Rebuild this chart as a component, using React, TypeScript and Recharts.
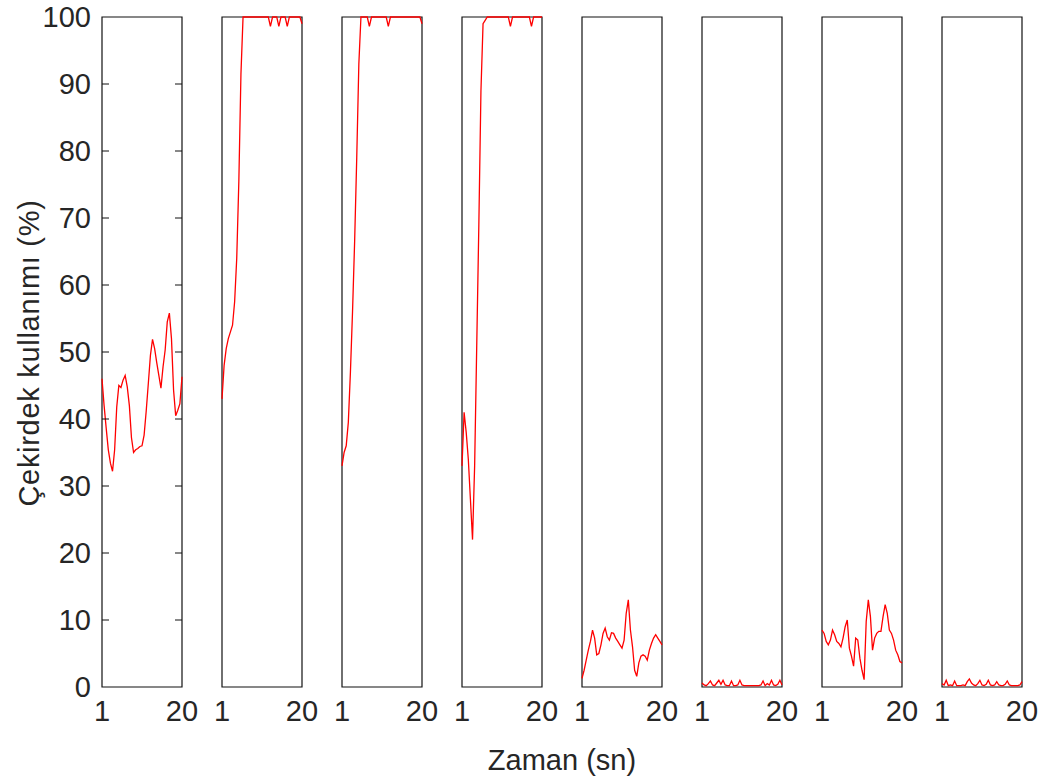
import React from 'react';
import { LineChart, Line, XAxis, YAxis, ReferenceArea } from 'recharts';

// time points (sn), sampled every half second
const zaman = [
  1, 1.5, 2, 2.5, 3, 3.5, 4, 4.5, 5, 5.5, 6, 6.5, 7, 7.5, 8, 8.5, 9, 9.5, 10, 10.5,
  11, 11.5, 12, 12.5, 13, 13.5, 14, 14.5, 15, 15.5, 16, 16.5, 17, 17.5, 18, 18.5, 19, 19.5, 20,
];

// core usage (%) per core
const cekirdek1 = [
  46, 42, 38.6, 35.4, 33.4, 32.2, 35.4, 41.8, 45, 44.7, 45.8, 46.5, 44.8, 42, 37.2, 35, 35.4, 35.6, 35.9, 36,
  37.6, 41.2, 45.3, 49.5, 51.9, 50.5, 48.4, 46.5, 44.6, 47.8, 50.3, 54.5, 55.8, 52, 44.3, 40.5, 41.3, 42.3, 46.3,
];
const cekirdek2 = [
  43, 48, 50.5, 52, 53, 54, 57.5, 64, 75.5, 91.5, 100, 100, 100, 100, 100, 100, 100, 100, 100, 100,
  100, 100, 100, 98.6, 100, 100, 100, 98.6, 100, 100, 100, 98.6, 100, 100, 100, 100, 100, 100, 99,
];
const cekirdek3 = [
  33, 35, 36, 39.5, 47, 56, 66.5, 79, 93, 100, 100, 100, 100, 98.6, 100, 100, 100, 100, 100, 100,
  100, 100, 98.6, 100, 100, 100, 100, 100, 100, 100, 100, 100, 100, 100, 100, 100, 100, 100, 99,
];
const cekirdek4 = [
  33, 41, 38, 34, 28, 22, 33, 51, 69, 89, 99, 99.5, 100, 100, 100, 100, 100, 100, 100, 100,
  100, 100, 100, 98.6, 100, 100, 100, 100, 100, 100, 100, 100, 100, 98.6, 100, 100, 100, 100, 100,
];
const cekirdek5 = [
  1.3, 2.5, 4, 5.5, 6.8, 8.5, 7.3, 4.8, 5, 6.3, 8, 8.8, 7.5, 7, 8.1, 8, 7.3, 6.8, 6.3, 5.8,
  7, 11, 13, 8.5, 6, 2.5, 1.6, 3.6, 4.6, 4.8, 4.6, 4, 5.5, 6.5, 7.3, 7.8, 7.3, 6.8, 6.3,
];
const cekirdek6 = [
  0.6, 0.3, 0.2, 0.5, 0.9, 0.3, 0.2, 0.6, 1.0, 0.4, 1.0, 0.3, 0.2, 0.2, 0.9, 0.2, 0.2, 0.3, 1.0, 0.3,
  0.2, 0.2, 0.2, 0.2, 0.2, 0.2, 0.2, 0.2, 0.3, 0.9, 0.2, 0.5, 0.3, 1.0, 0.3, 0.2, 0.4, 1.0, 0.3,
];
const cekirdek7 = [
  8.5, 8, 6.8, 6.3, 7, 8.5, 7.8, 6.8, 6.5, 6, 7.3, 9, 10, 5.8, 4.6, 3.1, 7.3, 7, 4.3, 2.5,
  1.1, 9.8, 13, 10.5, 5.5, 7.3, 8, 8.3, 8.3, 10.5, 12.3, 11, 8.5, 8, 7, 5.5, 4.8, 3.8, 3.6,
];
const cekirdek8 = [
  0.5, 0.3, 1.0, 0.2, 0.3, 0.2, 0.9, 0.2, 0.2, 0.2, 0.3, 0.2, 0.8, 1.2, 0.6, 0.3, 0.2, 0.5, 1.0, 0.3,
  0.2, 0.4, 1.0, 0.3, 0.2, 0.3, 0.8, 0.3, 0.2, 0.2, 0.4, 0.9, 0.3, 0.2, 0.2, 0.2, 0.2, 0.3, 0.8,
];

const seriler = [cekirdek1, cekirdek2, cekirdek3, cekirdek4, cekirdek5, cekirdek6, cekirdek7, cekirdek8];

const xTicks = [1, 20];
const yTicks = [0, 10, 20, 30, 40, 50, 60, 70, 80, 90, 100];

const FONT = '"Liberation Sans", Arial, sans-serif';
const FS = 29;
const TXT = '#262626';

const PLOT_TOP = 17;
const PLOT_BOTTOM = 687;
const PLOT_W = 80;
const FIRST_LEFT = 102;
const STEP = 120;
const H = 784;
const X_AXIS_H = 50;
const Y_LABEL_GAP = 11;
const INNER_TICK = 7;

const YTick = (props: any) => {
  const { x, y, payload } = props;
  const left = x + Y_LABEL_GAP;
  const v = payload.value;
  return (
    <g>
      <text x={x} y={y} dy="0.355em" textAnchor="end" fontFamily={FONT} fontSize={FS} fill={TXT}>
        {v}
      </text>
      {v !== 0 && v !== 100 && (
        <>
          <line x1={left} x2={left + INNER_TICK} y1={y} y2={y} stroke="#111" />
          <line x1={left + PLOT_W - INNER_TICK} x2={left + PLOT_W} y1={y} y2={y} stroke="#111" />
        </>
      )}
    </g>
  );
};

const Panel: React.FC<{ idx: number }> = ({ idx }) => {
  const first = idx === 0;
  const data = zaman.map((t, i) => ({ t, v: seriler[idx][i] }));
  const marginLeft = first ? 0 : 20;
  const yW = first ? FIRST_LEFT : 0;
  const width = (first ? FIRST_LEFT : 20) + PLOT_W + 22;
  const chartLeft = first ? 0 : FIRST_LEFT + idx * STEP - 20;

  return (
    <div style={{ position: 'absolute', left: chartLeft, top: 0 }}>
      <LineChart
        width={width}
        height={H}
        data={data}
        margin={{ top: PLOT_TOP, right: 22, bottom: H - PLOT_BOTTOM - X_AXIS_H, left: marginLeft }}
      >
        <XAxis
          dataKey="t"
          type="number"
          domain={[1, 20]}
          ticks={xTicks}
          height={X_AXIS_H}
          axisLine={false}
          tickLine={false}
          tickSize={0}
          tickMargin={13}
          interval={0}
          tick={{ fontFamily: FONT, fontSize: FS, fill: TXT }}
        />
        <YAxis
          type="number"
          domain={[0, 100]}
          ticks={yTicks}
          hide={!first}
          width={yW}
          axisLine={false}
          tickLine={false}
          tickSize={0}
          tickMargin={Y_LABEL_GAP}
          interval={0}
          tick={<YTick />}
        />
        <ReferenceArea x1={1} x2={20} y1={0} y2={100} fill="none" stroke="#111" strokeWidth={1.2} />
        <Line
          type="linear"
          dataKey="v"
          stroke="#ff0000"
          strokeWidth={1.3}
          dot={false}
          isAnimationActive={false}
        />
      </LineChart>
    </div>
  );
};

export default function App() {
  return (
    <div
      style={{
        position: 'absolute',
        left: 0,
        top: 0,
        width: 1052,
        height: H,
        background: '#fff',
        overflow: 'hidden',
      }}
    >
      {seriler.map((_, i) => (
        <Panel key={i} idx={i} />
      ))}
      <div
        style={{
          position: 'absolute',
          left: 29,
          top: 353,
          transform: 'translate(-50%, -50%) rotate(-90deg)',
          whiteSpace: 'nowrap',
          fontFamily: FONT,
          fontSize: FS,
          color: TXT,
          lineHeight: 1,
          letterSpacing: 0.7,
        }}
      >
        Çekirdek kullanımı (%)
      </div>
      <div
        style={{
          position: 'absolute',
          left: 562,
          top: 760,
          transform: 'translate(-50%, -50%)',
          whiteSpace: 'nowrap',
          fontFamily: FONT,
          fontSize: FS,
          color: TXT,
          lineHeight: 1,
        }}
      >
        Zaman (sn)
      </div>
    </div>
  );
}
